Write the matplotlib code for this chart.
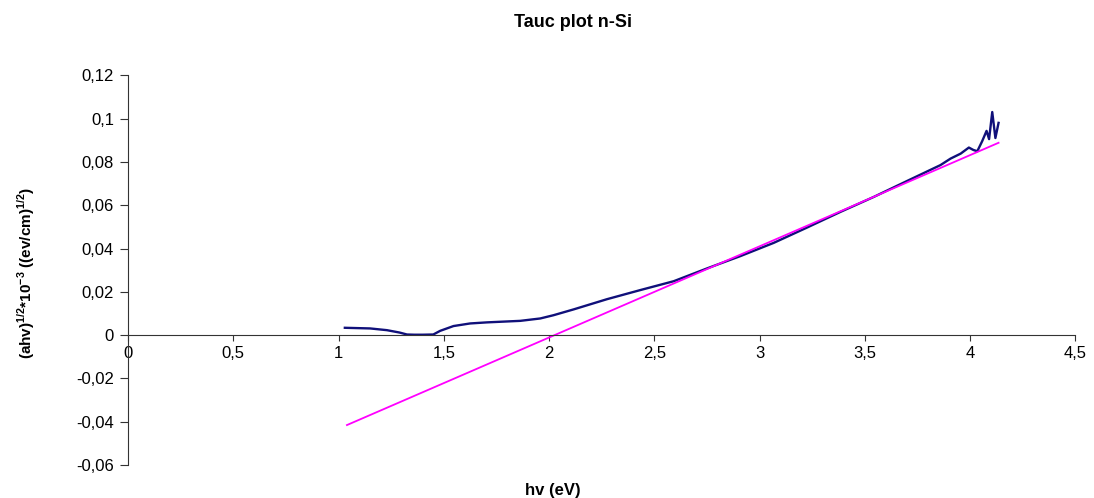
import numpy as np
import matplotlib
matplotlib.use("Agg")
import matplotlib.pyplot as plt

plt.rcParams['font.family'] = ['Liberation Sans', 'DejaVu Sans']
plt.rcParams['mathtext.fontset'] = 'custom'
plt.rcParams['mathtext.rm'] = 'Liberation Sans'
plt.rcParams['mathtext.bf'] = 'Liberation Sans:bold'

hv = [1.03, 1.15, 1.23, 1.29, 1.325, 1.36, 1.40, 1.45, 1.483, 1.546, 1.625,
      1.705, 1.863, 1.958, 2.021, 2.117, 2.275, 2.433, 2.592, 2.75, 2.909,
      3.067, 3.226, 3.384, 3.542, 3.701, 3.859, 3.907, 3.955, 3.994, 4.015,
      4.034, 4.057, 4.078, 4.09, 4.105, 4.12, 4.135]
tauc = [0.0034, 0.0031, 0.0023, 0.0012, 0.0003, 0.0002, 0.0002, 0.0003, 0.0020,
        0.0042, 0.0054, 0.0059, 0.0066, 0.0077, 0.0092, 0.0119, 0.0166, 0.0208,
        0.0249, 0.0308, 0.0365, 0.0426, 0.0497, 0.0569, 0.0638, 0.0712, 0.0785,
        0.0815, 0.0838, 0.0866, 0.0855, 0.0849, 0.0895, 0.0943, 0.0905, 0.1030,
        0.0910, 0.0980]
# fitted straight line end points
fit_x = [1.04, 4.135]
fit_y = [-0.0415, 0.0888]

xticks = [0, 0.5, 1, 1.5, 2, 2.5, 3, 3.5, 4, 4.5]
yticks = [-0.06, -0.04, -0.02, 0, 0.02, 0.04, 0.06, 0.08, 0.1, 0.12]


def comma(v):
    s = ('%g' % v).replace('.', ',')
    return s


fig = plt.figure(figsize=(10.94, 4.98), dpi=100)
ax = fig.add_axes([0.117, 0.066, 0.866, 0.783])

ax.plot(hv, tauc, color='#10107a', lw=1.7)
ax.plot(fit_x, fit_y, color='#ff00ff', lw=1.3)

ax.set_xlim(0, 4.5)
ax.set_ylim(-0.06, 0.12)
ax.set_xticks(xticks)
ax.set_yticks(yticks)
ax.set_xticklabels([comma(v) for v in xticks])
ax.set_yticklabels([comma(v) for v in yticks])

ax.spines['top'].set_visible(False)
ax.spines['right'].set_visible(False)
ax.spines['bottom'].set_position(('data', 0))
ax.spines['left'].set_color('#333333')
ax.spines['bottom'].set_color('#333333')
ax.tick_params(axis='x', direction='out', length=4, pad=4, color='#333333',
               labelsize=12)
ax.tick_params(axis='y', direction='out', length=6, pad=4, color='#333333',
               labelsize=12)

fig.text(0.524, 0.955, 'Tauc plot n-Si', ha='center', va='center',
         fontsize=13, fontweight='bold')
fig.text(0.505, 0.016, 'hv (eV)', ha='center', va='center',
         fontsize=12, fontweight='bold')
fig.text(0.024, 0.452,
         r'(ahv)$^{\mathbf{1/2}}$*10$^{\mathbf{-3}}$ ((ev/cm)$^{\mathbf{1/2}}$)',
         rotation=90, ha='center', va='center', fontsize=11, fontweight='bold')

fig.savefig('out.png', dpi=100)
